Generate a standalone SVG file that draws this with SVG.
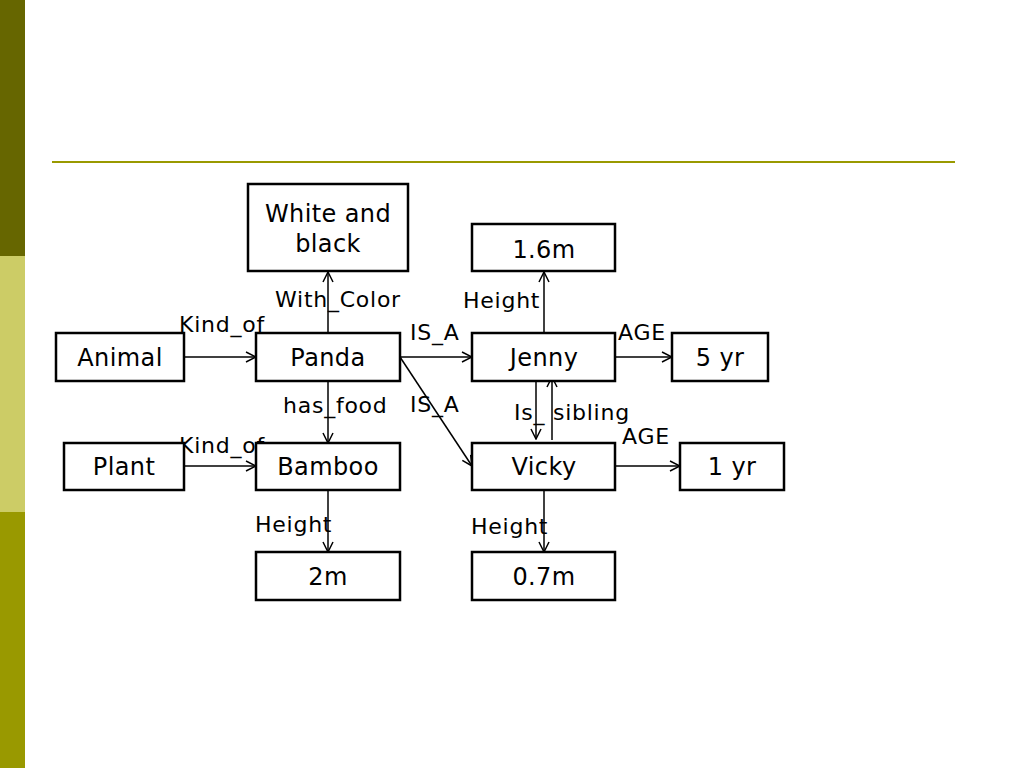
<svg xmlns="http://www.w3.org/2000/svg" width="1024" height="768" viewBox="0 0 1024 768">
<defs>
<marker id="arr" viewBox="0 0 12 12" refX="11" refY="6" markerWidth="12" markerHeight="12" markerUnits="userSpaceOnUse" orient="auto">
<path d="M1,1 L11,6 L1,11" fill="none" stroke="#000" stroke-width="1.5"/>
</marker>
</defs>
<style>
.box{fill:#fff;stroke:#000;stroke-width:2.5}
.nt{font-family:"DejaVu Sans",Verdana,sans-serif;font-size:24px;letter-spacing:0.4px;text-anchor:middle;fill:#000}
.lb{font-family:"DejaVu Sans",Verdana,sans-serif;font-size:22px;letter-spacing:0.75px;fill:#000}
.c{fill:none;stroke:#000;stroke-width:1.5;marker-end:url(#arr)}
</style>
<rect x="0" y="0" width="1024" height="768" fill="#fff"/>
<rect x="0" y="0" width="25" height="256" fill="#666600"/>
<rect x="0" y="256" width="25" height="256" fill="#cccc66"/>
<rect x="0" y="512" width="25" height="256" fill="#999900"/>
<line x1="52" y1="162" x2="955" y2="162" stroke="#999900" stroke-width="2"/>
<g id="connectors">
<line class="c" x1="184" y1="357" x2="256" y2="357"/>
<line class="c" x1="184" y1="466" x2="256" y2="466"/>
<line class="c" x1="328" y1="333" x2="328" y2="272"/>
<line class="c" x1="328" y1="381" x2="328" y2="443"/>
<line class="c" x1="328" y1="490" x2="328" y2="552"/>
<line class="c" x1="400" y1="357" x2="472" y2="357"/>
<line class="c" x1="400" y1="357" x2="472" y2="466"/>
<line class="c" x1="544" y1="333" x2="544" y2="272"/>
<line class="c" x1="615" y1="357" x2="672" y2="357"/>
<line class="c" x1="615" y1="466" x2="680" y2="466"/>
<line class="c" x1="544" y1="490" x2="544" y2="552"/>
<line class="c" x1="536" y1="376" x2="536" y2="439"/>
<line class="c" x1="552" y1="440" x2="552" y2="377"/>
<text class="lb" x="179" y="332">Kind_of</text>
<text class="lb" x="275" y="307">With_Color</text>
<text class="lb" x="410" y="340">IS_A</text>
<text class="lb" x="463" y="308">Height</text>
<text class="lb" x="618" y="340">AGE</text>
<text class="lb" x="283" y="413">has_food</text>
<text class="lb" x="410" y="412">IS_A</text>
<text class="lb" x="514" y="420">Is_ sibling</text>
<text class="lb" x="622" y="444">AGE</text>
<text class="lb" x="179" y="453">Kind_of</text>
<text class="lb" x="255" y="532">Height</text>
<text class="lb" x="471" y="534">Height</text>
</g>
<g id="white-black"><rect class="box" x="248" y="184" width="160" height="87"/><text class="nt" x="328" y="222">White and</text><text class="nt" x="328" y="252">black</text></g>
<g id="h16"><rect class="box" x="472" y="224" width="143" height="47"/><text class="nt" x="544" y="258">1.6m</text></g>
<g id="animal"><rect class="box" x="56" y="333" width="128" height="48"/><text class="nt" x="120" y="366">Animal</text></g>
<g id="panda"><rect class="box" x="256" y="333" width="144" height="48"/><text class="nt" x="328" y="366">Panda</text></g>
<g id="jenny"><rect class="box" x="472" y="333" width="143" height="48"/><text class="nt" x="544" y="366">Jenny</text></g>
<g id="age5"><rect class="box" x="672" y="333" width="96" height="48"/><text class="nt" x="720" y="366">5 yr</text></g>
<g id="plant"><rect class="box" x="64" y="443" width="120" height="47"/><text class="nt" x="124" y="475">Plant</text></g>
<g id="bamboo"><rect class="box" x="256" y="443" width="144" height="47"/><text class="nt" x="328" y="475">Bamboo</text></g>
<g id="vicky"><rect class="box" x="472" y="443" width="143" height="47"/><text class="nt" x="544" y="475">Vicky</text></g>
<g id="age1"><rect class="box" x="680" y="443" width="104" height="47"/><text class="nt" x="732" y="475">1 yr</text></g>
<g id="h2"><rect class="box" x="256" y="552" width="144" height="48"/><text class="nt" x="328" y="585">2m</text></g>
<g id="h07"><rect class="box" x="472" y="552" width="143" height="48"/><text class="nt" x="544" y="585">0.7m</text></g>
</svg>
